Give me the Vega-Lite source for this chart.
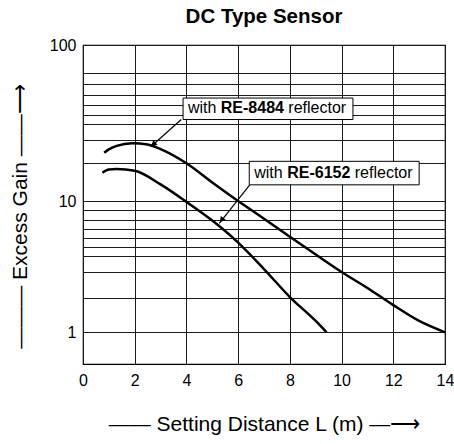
{
  "$schema": "https://vega.github.io/schema/vega-lite/v6.json",
  "width": 362,
  "height": 319,
  "autosize": {"type": "none"},
  "padding": {"left": 83, "top": 45, "right": 9, "bottom": 80},
  "background": "white",
  "title": {"text": "DC Type Sensor", "fontSize": 20.5, "fontWeight": "bold", "font": "Liberation Sans", "color": "black", "anchor": "middle", "offset": 10},
  "config": {"view": {"stroke": "black", "strokeWidth": 1.2}, "font": "Liberation Sans"},
  "datasets": {
    "curves": [
      {"reflector": "RE-8484", "distance": 0.82, "gain": 23.9},
      {"reflector": "RE-8484", "distance": 1.0, "gain": 25.4},
      {"reflector": "RE-8484", "distance": 1.3, "gain": 27.0},
      {"reflector": "RE-8484", "distance": 1.9, "gain": 28.3},
      {"reflector": "RE-8484", "distance": 2.5, "gain": 27.7},
      {"reflector": "RE-8484", "distance": 3.0, "gain": 25.5},
      {"reflector": "RE-8484", "distance": 4.0, "gain": 19.8},
      {"reflector": "RE-8484", "distance": 5.0, "gain": 14.0},
      {"reflector": "RE-8484", "distance": 6.0, "gain": 10.0},
      {"reflector": "RE-8484", "distance": 7.0, "gain": 8.1},
      {"reflector": "RE-8484", "distance": 8.0, "gain": 6.15},
      {"reflector": "RE-8484", "distance": 9.0, "gain": 4.18},
      {"reflector": "RE-8484", "distance": 10.0, "gain": 3.02},
      {"reflector": "RE-8484", "distance": 11.0, "gain": 2.35},
      {"reflector": "RE-8484", "distance": 12.0, "gain": 1.74},
      {"reflector": "RE-8484", "distance": 13.0, "gain": 1.26},
      {"reflector": "RE-8484", "distance": 14.0, "gain": 1.0},
      {"reflector": "RE-6152", "distance": 0.75, "gain": 16.7},
      {"reflector": "RE-6152", "distance": 1.0, "gain": 17.7},
      {"reflector": "RE-6152", "distance": 1.3, "gain": 17.85},
      {"reflector": "RE-6152", "distance": 2.0, "gain": 17.3},
      {"reflector": "RE-6152", "distance": 3.0, "gain": 13.5},
      {"reflector": "RE-6152", "distance": 4.0, "gain": 9.9},
      {"reflector": "RE-6152", "distance": 5.0, "gain": 7.9},
      {"reflector": "RE-6152", "distance": 6.0, "gain": 5.5},
      {"reflector": "RE-6152", "distance": 7.0, "gain": 3.18},
      {"reflector": "RE-6152", "distance": 8.0, "gain": 2.04},
      {"reflector": "RE-6152", "distance": 9.0, "gain": 1.26},
      {"reflector": "RE-6152", "distance": 9.42, "gain": 1.0}
    ],
    "boxes": [
      {"reflector": "RE-8484", "distance": 3.87, "distance2": 10.44, "gain": 67.1, "gain2": 44.7},
      {"reflector": "RE-6152", "distance": 6.43, "distance2": 13.0, "gain": 20.5, "gain2": 13.4}
    ],
    "labels": [
      {"reflector": "RE-8484", "part": "with", "bold": false, "distance": 4.06, "gain": 56.4},
      {"reflector": "RE-8484", "part": "RE-8484", "bold": true, "distance": 5.33, "gain": 56.4},
      {"reflector": "RE-8484", "part": "reflector", "bold": false, "distance": 7.94, "gain": 56.4},
      {"reflector": "RE-6152", "part": "with", "bold": false, "distance": 6.62, "gain": 16.6},
      {"reflector": "RE-6152", "part": "RE-6152", "bold": true, "distance": 7.9, "gain": 16.6},
      {"reflector": "RE-6152", "part": "reflector", "bold": false, "distance": 10.51, "gain": 16.6}
    ],
    "arrows": [
      {"reflector": "RE-8484", "distance": 3.8, "gain": 44.7, "distance2": 2.62, "gain2": 26.6},
      {"reflector": "RE-6152", "distance": 6.45, "gain": 13.4, "distance2": 5.27, "gain2": 7.6}
    ],
    "heads": [
      {"reflector": "RE-8484", "distance": 2.72, "gain": 27.8},
      {"reflector": "RE-6152", "distance": 5.36, "gain": 7.95}
    ]
  },
  "layer": [
    {
      "data": {"name": "curves"},
      "mark": {"type": "line", "interpolate": "monotone", "color": "black", "strokeWidth": 2.5},
      "encoding": {
        "x": {
          "field": "distance", "type": "quantitative",
          "scale": {"domain": [0, 14], "nice": false, "zero": false},
          "axis": {
            "title": "—— Setting Distance L (m) —⟶",
            "values": [0, 1, 2, 3, 4, 5, 6, 7, 8, 9, 10, 11, 12, 13, 14],
            "labelExpr": "datum.value % 2 === 0 ? datum.label : ''",
            "grid": true, "gridColor": "#1a1a1a", "gridWidth": 1, "gridOpacity": 1,
            "ticks": false, "domain": false,
            "labelFont": "Liberation Sans", "labelFontSize": 16, "labelColor": "black", "labelPadding": 8,
            "labelFlush": false, "labelOverlap": false,
            "titleFont": "Liberation Sans", "titleFontSize": 21, "titleFontWeight": "normal", "titleColor": "black", "titlePadding": 25
          }
        },
        "y": {
          "field": "gain", "type": "quantitative",
          "scale": {
            "type": "log", "nice": false,
            "domain": [0.53, 1, 2, 3, 4, 5, 6, 7, 8, 9, 10, 20, 30, 40, 50, 60, 70, 80, 90, 100],
            "range": [319, 287.3, 253.3, 227.3, 211.3, 202.3, 193.3, 184, 174.7, 165.3, 156, 117.7, 95, 79.3, 69.7, 60.3, 50.3, 39, 28.3, 0]
          },
          "axis": {
            "title": "——— Excess Gain ——⟶",
            "values": [1, 2, 3, 4, 5, 6, 7, 8, 9, 10, 20, 30, 40, 50, 60, 70, 80, 90, 100],
            "format": "d",
            "labelExpr": "datum.value == 1 || datum.value == 10 || datum.value == 100 ? datum.label : ''",
            "grid": true, "gridColor": "#1a1a1a", "gridWidth": 1, "gridOpacity": 1,
            "ticks": false, "domain": false,
            "labelFont": "Liberation Sans", "labelFontSize": 16, "labelColor": "black", "labelPadding": 7,
            "labelOverlap": false, "labelFlush": false,
            "titleFont": "Liberation Sans", "titleFontSize": 21, "titleFontWeight": "normal", "titleColor": "black", "titlePadding": 19,
            "titleY": 171
          }
        },
        "detail": {"field": "reflector"}
      }
    },
    {
      "data": {"name": "arrows"},
      "mark": {"type": "rule", "color": "black", "strokeWidth": 1.2},
      "encoding": {
        "x": {"field": "distance", "type": "quantitative"},
        "y": {"field": "gain", "type": "quantitative"},
        "x2": {"field": "distance2"},
        "y2": {"field": "gain2"}
      }
    },
    {
      "data": {"name": "heads"},
      "transform": [{"filter": "datum.reflector == 'RE-8484'"}],
      "mark": {"type": "point", "shape": "triangle-up", "filled": true, "color": "black", "opacity": 1, "size": 40, "angle": 228},
      "encoding": {
        "x": {"field": "distance", "type": "quantitative"},
        "y": {"field": "gain", "type": "quantitative"}
      }
    },
    {
      "data": {"name": "heads"},
      "transform": [{"filter": "datum.reflector == 'RE-6152'"}],
      "mark": {"type": "point", "shape": "triangle-up", "filled": true, "color": "black", "opacity": 1, "size": 40, "angle": 217},
      "encoding": {
        "x": {"field": "distance", "type": "quantitative"},
        "y": {"field": "gain", "type": "quantitative"}
      }
    },
    {
      "data": {"name": "boxes"},
      "mark": {"type": "rect", "fill": "white", "stroke": "black", "strokeWidth": 1},
      "encoding": {
        "x": {"field": "distance", "type": "quantitative"},
        "x2": {"field": "distance2"},
        "y": {"field": "gain", "type": "quantitative"},
        "y2": {"field": "gain2"}
      }
    },
    {
      "data": {"name": "labels"},
      "transform": [{"filter": "!datum.bold"}],
      "mark": {"type": "text", "align": "left", "baseline": "middle", "font": "Liberation Sans", "fontSize": 16, "color": "black"},
      "encoding": {
        "x": {"field": "distance", "type": "quantitative"},
        "y": {"field": "gain", "type": "quantitative"},
        "text": {"field": "part"}
      }
    },
    {
      "data": {"name": "labels"},
      "transform": [{"filter": "datum.bold"}],
      "mark": {"type": "text", "align": "left", "baseline": "middle", "font": "Liberation Sans", "fontSize": 16, "fontWeight": "bold", "color": "black"},
      "encoding": {
        "x": {"field": "distance", "type": "quantitative"},
        "y": {"field": "gain", "type": "quantitative"},
        "text": {"field": "part"}
      }
    }
  ]
}
